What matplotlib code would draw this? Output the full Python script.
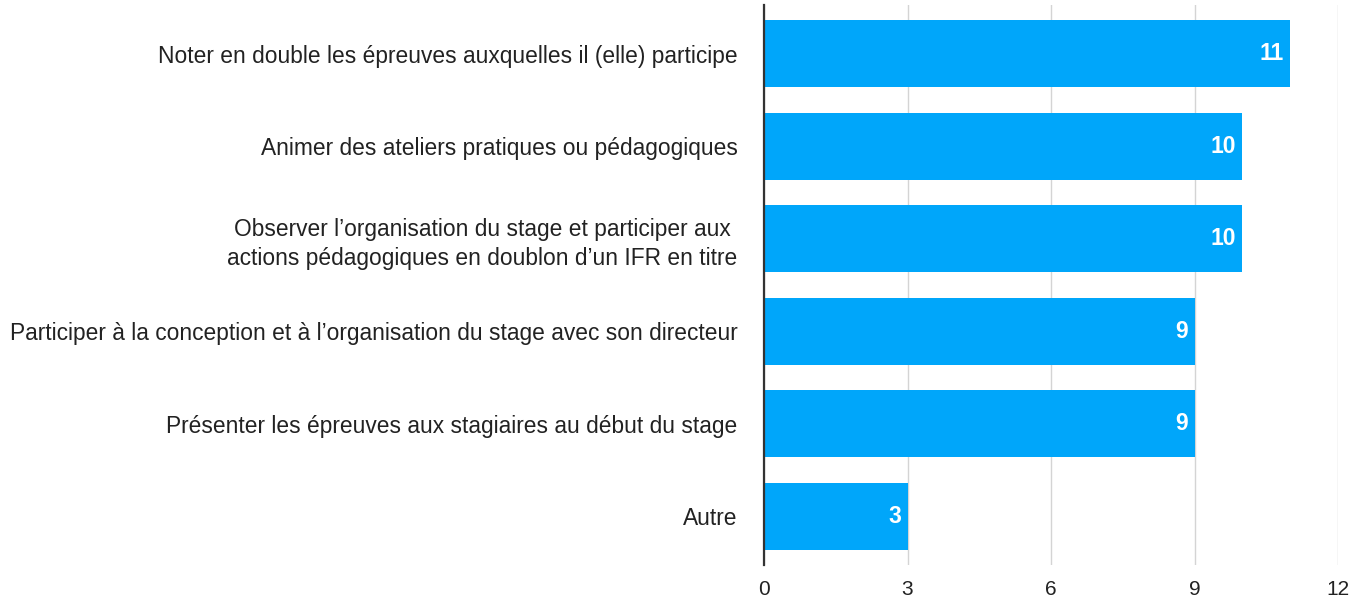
import matplotlib.pyplot as plt

categories = [
    "Noter en double les épreuves auxquelles il (elle) participe",
    "Animer des ateliers pratiques ou pédagogiques",
    "Observer l’organisation du stage et participer aux \nactions pédagogiques en doublon d’un IFR en titre",
    "Participer à la conception et à l’organisation du stage avec son directeur",
    "Présenter les épreuves aux stagiaires au début du stage",
    "Autre",
]
values = [11, 10, 10, 9, 9, 3]
xticks = [0, 3, 6, 9, 12]

plt.rcParams['font.family'] = ['Liberation Sans', 'DejaVu Sans']

fig = plt.figure(figsize=(13.66, 6.02), dpi=100)
ax = fig.add_axes([764 / 1366, 1 - 565 / 602, (1338 - 764) / 1366, 560 / 602])

pos = list(range(len(categories)))
bars = ax.barh(pos, values, height=0.725, color='#00a6fa', zorder=3)

# valeurs en blanc dans le bout de chaque barre
for b, v in zip(bars, values):
    ax.annotate(str(v), (b.get_width(), b.get_y() + b.get_height() / 2),
                xytext=(-4.5, 0), textcoords='offset points',
                ha='right', va='center', color='white',
                fontsize=16.5, fontweight='bold', zorder=4)

ax.set_xlim(0, 12)
ax.set_ylim(len(categories) - 0.47, -0.53)
ax.set_xticks(xticks)
ax.set_yticks(pos)
ax.set_yticklabels(categories, fontsize=16.4, color='#222222', linespacing=1.3)
ax.tick_params(axis='y', length=0, pad=19)
ax.tick_params(axis='x', length=0, pad=11, labelsize=15, labelcolor='#222222')

ax.grid(axis='x', color='#d4d4d4', linewidth=1, zorder=0)
for s in ['top', 'right', 'bottom']:
    ax.spines[s].set_visible(False)
ax.spines['left'].set_color('#333333')
ax.spines['left'].set_linewidth(1.6)
ax.spines['left'].set_zorder(5)

fig.savefig('out.png', dpi=100)
